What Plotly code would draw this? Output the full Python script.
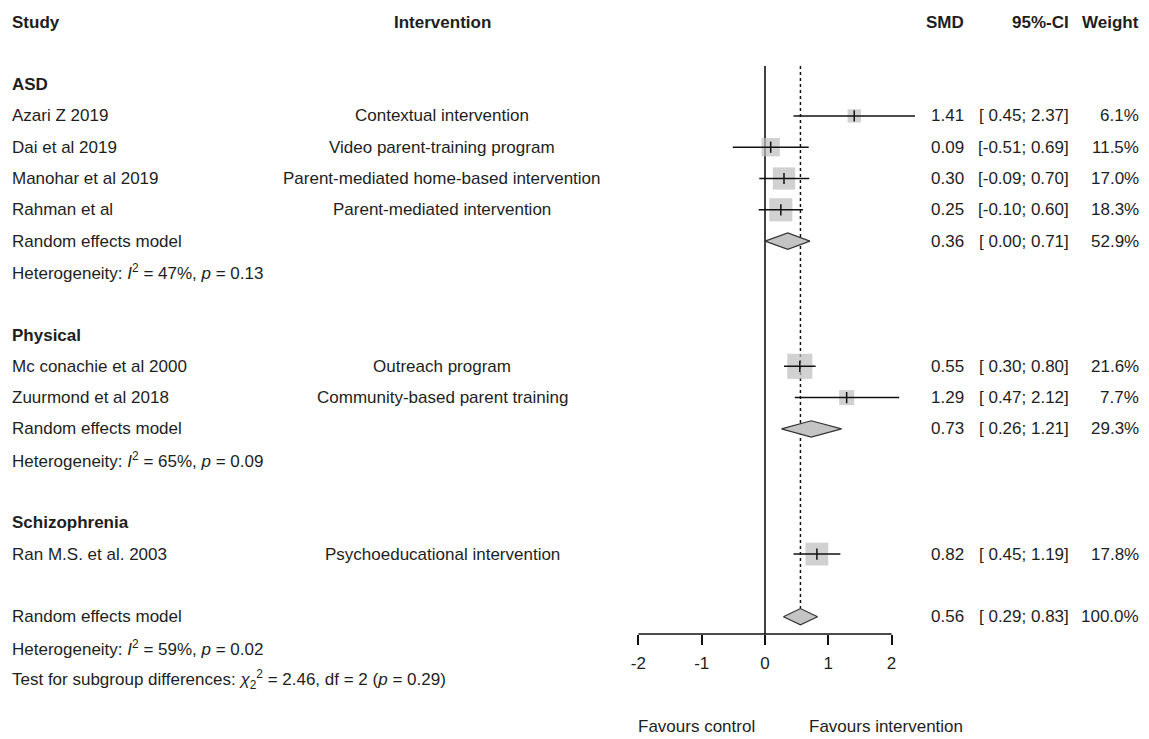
import math
import plotly.graph_objects as go

# ---- study-level data ----
groups = ["ASD", "ASD", "ASD", "ASD", "Physical", "Physical", "Schizophrenia"]
studies = ["Azari Z 2019", "Dai et al 2019", "Manohar et al 2019", "Rahman et al",
           "Mc conachie et al 2000", "Zuurmond et al 2018", "Ran M.S. et al. 2003"]
interventions = ["Contextual intervention", "Video parent-training program",
                 "Parent-mediated home-based intervention", "Parent-mediated intervention",
                 "Outreach program", "Community-based parent training",
                 "Psychoeducational intervention"]
smd = [1.41, 0.09, 0.30, 0.25, 0.55, 1.29, 0.82]
ci_low = [0.45, -0.51, -0.09, -0.10, 0.30, 0.47, 0.45]
ci_high = [2.37, 0.69, 0.70, 0.60, 0.80, 2.12, 1.19]
weights = [6.1, 11.5, 17.0, 18.3, 21.6, 7.7, 17.8]

# ---- subgroup random-effects summaries ----
pooled_groups = ["ASD", "Physical"]
pooled_smd = [0.36, 0.73]
pooled_low = [0.00, 0.26]
pooled_high = [0.71, 1.21]
pooled_weight = [52.9, 29.3]
pooled_i2 = [47, 65]
pooled_p = ["0.13", "0.09"]

# ---- overall summary ----
overall_smd, overall_low, overall_high, overall_weight = 0.56, 0.29, 0.83, 100.0
overall_i2, overall_p = 59, "0.02"
subgroup_chi2, subgroup_df, subgroup_p = 2.46, 2, "0.29"

tick_values = [-2, -1, 0, 1, 2]

# ---- layout of rows ----
W, H = 1149, 739
ROW0_PX, ROW_PX = 22.0, 31.3
X0_PX, UNIT_PX = 765.0, 63.3
x_range = [(0 - X0_PX) / UNIT_PX, (W - X0_PX) / UNIT_PX]
y_range = [(H - ROW0_PX) / ROW_PX, (0 - ROW0_PX) / ROW_PX]
AXIS_ROW = (634 - ROW0_PX) / ROW_PX
TOP_ROW = (66 - ROW0_PX) / ROW_PX

FONT = "Liberation Sans, Arial, sans-serif"
FS = 17
TXT = "#1e1e1e"

row = 2
header_rows, study_rows, pooled_rows, het_rows = {}, [], [], []
current = None
for g, _ in zip(groups, studies):
    if g != current:
        if current is not None and current in pooled_groups:
            pooled_rows.append(row); het_rows.append(row + 1); row += 3
        elif current is not None:
            row += 1
        header_rows[g] = row
        row += 1
        current = g
    study_rows.append(row)
    row += 1
if current in pooled_groups:
    pooled_rows.append(row); het_rows.append(row + 1); row += 3
else:
    row += 1
overall_row = row
overall_het_row = row + 1
test_row = row + 2
favours_row = row + 3.5

fig = go.Figure()

# reference lines: no effect and overall estimate
fig.add_trace(go.Scatter(x=[0, 0], y=[TOP_ROW, AXIS_ROW], mode="lines",
                         line=dict(color="#111", width=1.6), hoverinfo="skip"))
diamond_half = 0.26
fig.add_trace(go.Scatter(x=[overall_smd, overall_smd], y=[TOP_ROW, overall_row - diamond_half],
                         mode="lines", line=dict(color="#111", width=1.5, dash="dot"),
                         hoverinfo="skip"))

# squares scaled by weight
fig.add_trace(go.Scatter(x=smd, y=study_rows, mode="markers",
                         marker=dict(symbol="square", size=[5.4 * math.sqrt(w) for w in weights],
                                     color="#bdbdbd", line=dict(width=0)),
                         hoverinfo="skip"))

# confidence intervals
cx, cy = [], []
for lo, hi, r in zip(ci_low, ci_high, study_rows):
    cx += [lo, hi, None]
    cy += [r, r, None]
fig.add_trace(go.Scatter(x=cx, y=cy, mode="lines", line=dict(color="#111", width=1.5),
                         hoverinfo="skip"))

# point estimate ticks
fig.add_trace(go.Scatter(x=smd, y=study_rows, mode="markers",
                         marker=dict(symbol="line-ns", size=8,
                                     line=dict(color="#111", width=1.5)),
                         hoverinfo="skip"))

# diamonds
def add_diamond(c, lo, hi, r):
    fig.add_trace(go.Scatter(x=[lo, c, hi, c, lo], y=[r, r - diamond_half, r, r + diamond_half, r],
                             mode="lines", fill="toself", fillcolor="#c4c4c4",
                             line=dict(color="#333", width=1.2), hoverinfo="skip"))

for c, lo, hi, r in zip(pooled_smd, pooled_low, pooled_high, pooled_rows):
    add_diamond(c, lo, hi, r)
add_diamond(overall_smd, overall_low, overall_high, overall_row)

# bottom axis line from -2 to 2
fig.add_shape(type="line", xref="x", yref="y", x0=tick_values[0], x1=tick_values[-1],
              y0=AXIS_ROW, y1=AXIS_ROW, line=dict(color="#111", width=1.6))

annotations = []


def txt(x_px, r, s, anchor="left", bold=False):
    if bold:
        s = "<b>" + s + "</b>"
    annotations.append(dict(x=x_px / W, xref="paper", y=r, yref="y", text=s,
                            showarrow=False, xanchor=anchor, yanchor="middle",
                            font=dict(family=FONT, size=FS, color=TXT)))


def ci_text(lo, hi):
    return f"[{lo:5.2f}; {hi:.2f}]"


STUDY_X, INT_X, SMD_X, CI_X, W_X = 10, 442, 966, 1071, 1141

txt(STUDY_X, 0, "Study", bold=True)
txt(INT_X, 0, "Intervention", "center", bold=True)
txt(SMD_X, 0, "SMD", "right", bold=True)
txt(CI_X, 0, "95%-CI", "right", bold=True)
txt(W_X, 0, "Weight", "right", bold=True)

for g, r in header_rows.items():
    txt(STUDY_X, r, g, bold=True)

for s, iv, m, lo, hi, w, r in zip(studies, interventions, smd, ci_low, ci_high, weights, study_rows):
    txt(STUDY_X, r, s)
    txt(INT_X, r, iv, "center")
    txt(SMD_X, r, f"{m:.2f}", "right")
    txt(CI_X, r, ci_text(lo, hi), "right")
    txt(W_X, r, f"{w:.1f}%", "right")

for m, lo, hi, w, r, hr, i2, p in zip(pooled_smd, pooled_low, pooled_high, pooled_weight,
                                      pooled_rows, het_rows, pooled_i2, pooled_p):
    txt(STUDY_X, r, "Random effects model")
    txt(SMD_X, r, f"{m:.2f}", "right")
    txt(CI_X, r, ci_text(lo, hi), "right")
    txt(W_X, r, f"{w:.1f}%", "right")
    txt(STUDY_X, hr, f"Heterogeneity: <i>I</i><sup>2</sup> = {i2}%, <i>p</i> = {p}")

txt(STUDY_X, overall_row, "Random effects model")
txt(SMD_X, overall_row, f"{overall_smd:.2f}", "right")
txt(CI_X, overall_row, ci_text(overall_low, overall_high), "right")
txt(W_X, overall_row, f"{overall_weight:.1f}%", "right")
txt(STUDY_X, overall_het_row,
    f"Heterogeneity: <i>I</i><sup>2</sup> = {overall_i2}%, <i>p</i> = {overall_p}")
txt(STUDY_X, test_row,
    f"Test for subgroup differences: <i>χ</i><sub>{subgroup_df}</sub><sup>2</sup> = "
    f"{subgroup_chi2:.2f}, df = {subgroup_df} (<i>p</i> = {subgroup_p})")

txt(696, favours_row, "Favours control", "center")
txt(886, favours_row, "Favours intervention", "center")

fig.update_layout(
    width=W, height=H,
    margin=dict(l=0, r=0, t=0, b=0),
    paper_bgcolor="white", plot_bgcolor="white",
    showlegend=False,
    annotations=annotations,
    xaxis=dict(range=x_range, anchor="free", position=1 - 634 / H,
               showline=False, showgrid=False, zeroline=False,
               tickmode="array", tickvals=tick_values,
               ticktext=[str(v) for v in tick_values],
               ticks="outside", ticklen=10, tickwidth=1.6, tickcolor="#111",
               ticklabelstandoff=4,
               tickfont=dict(family=FONT, size=FS, color=TXT)),
    yaxis=dict(range=y_range, visible=False, showgrid=False, zeroline=False),
)

fig.write_html("out.html")
